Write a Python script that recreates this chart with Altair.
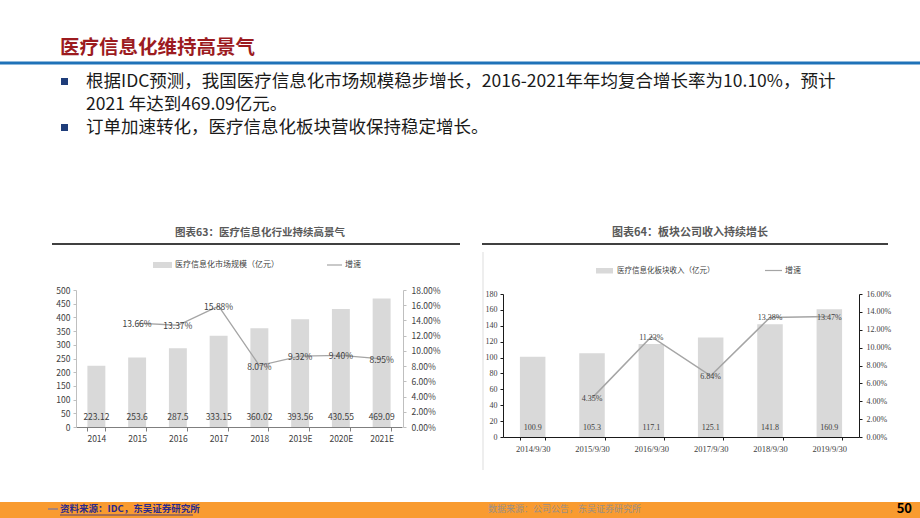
import altair as alt
import pandas as pd

# ---------------- data ----------------
years63 = ["2014", "2015", "2016", "2017", "2018", "2019E", "2020E", "2021E"]
market63 = [223.12, 253.6, 287.5, 333.15, 360.02, 393.56, 430.55, 469.09]
growth_years63 = ["2015", "2016", "2017", "2018", "2019E", "2020E", "2021E"]
growth63 = [13.66, 13.37, 15.88, 8.07, 9.32, 9.40, 8.95]

dates64 = ["2014/9/30", "2015/9/30", "2016/9/30", "2017/9/30", "2018/9/30", "2019/9/30"]
revenue64 = [100.9, 105.3, 117.1, 125.1, 141.8, 160.9]
growth_dates64 = ["2015/9/30", "2016/9/30", "2017/9/30", "2018/9/30", "2019/9/30"]
growth64 = [4.35, 11.23, 6.84, 13.38, 13.47]

left_ticks63 = [0, 50, 100, 150, 200, 250, 300, 350, 400, 450, 500]
right_ticks63 = [0, 2, 4, 6, 8, 10, 12, 14, 16, 18]
left_ticks64 = [0, 20, 40, 60, 80, 100, 120, 140, 160, 180]
right_ticks64 = [0, 2, 4, 6, 8, 10, 12, 14, 16]

slide_title = "医疗信息化维持高景气"
bullet1a = "根据IDC预测，我国医疗信息化市场规模稳步增长，2016-2021年年均复合增长率为10.10%，预计"
bullet1b = "2021 年达到469.09亿元。"
bullet2 = "订单加速转化，医疗信息化板块营收保持稳定增长。"
title63 = "图表63：医疗信息化行业持续高景气"
title64 = "图表64：板块公司收入持续增长"
legend63_bar = "医疗信息化市场规模（亿元）"
legend64_bar = "医疗信息化板块收入（亿元）"
legend_line = "增速"
footer_left = "资料来源：IDC，东吴证券研究所"
footer_mid = "数据来源：公司公告，东吴证券研究所"
page_no = "50"

# ---------------- tables ----------------
df63 = pd.DataFrame({"year": years63, "value": market63,
                     "label": [f"{v:g}" for v in market63]})
dg63 = pd.DataFrame({"year": growth_years63, "growth": growth63,
                     "label": [f"{g:.2f}%" for g in growth63]})
df64 = pd.DataFrame({"date": dates64, "value": revenue64,
                     "label": [f"{v:g}" for v in revenue64]})
dg64 = pd.DataFrame({"date": growth_dates64, "growth": growth64,
                     "label": [f"{g:.2f}%" for g in growth64]})
one = pd.DataFrame({"k": [0]})

# ---------------- style / geometry ----------------
W, H = 920, 518
FONT = "Noto Sans CJK SC"
SERIF = "Liberation Serif, Noto Sans CJK SC"
TXT = "#404040"
BAR = "#D9D9D9"
LINE = "#A5A5A5"

X63 = [76, 402]
Y63 = [427, 290]
X64 = [503, 859]
Y64 = [437, 294]

xb63 = alt.Scale(type="band", domain=years63, range=X63, paddingInner=0.56, paddingOuter=0.28)
xp63 = alt.Scale(type="point", domain=years63, range=X63, padding=0.5)
yl63 = alt.Scale(domain=[0, 500], range=Y63, nice=False)
yr63 = alt.Scale(domain=[0, 18], range=Y63, nice=False)

xb64 = alt.Scale(type="band", domain=dates64, range=X64, paddingInner=0.57, paddingOuter=0.285)
xp64 = alt.Scale(type="point", domain=dates64, range=X64, padding=0.5)
yl64 = alt.Scale(domain=[0, 180], range=Y64, nice=False)
yr64 = alt.Scale(domain=[0, 16], range=Y64, nice=False)

PCT = "format(datum.value, '.2f') + '%'"


def txt(s, x, y, size, color="#000000", weight="normal", font=FONT, align="left"):
    return alt.Chart(one).mark_text(
        text=s, align=align, baseline="middle", fontSize=size, font=font,
        fontWeight=weight, color=color
    ).encode(x=alt.value(x), y=alt.value(y))


def rect(x, x2, y, y2, color):
    return alt.Chart(one).mark_rect(color=color).encode(
        x=alt.value(x), x2=alt.value(x2), y=alt.value(y), y2=alt.value(y2))


def rule(x, x2, y, y2, color, w):
    return alt.Chart(one).mark_rule(color=color, strokeWidth=w).encode(
        x=alt.value(x), x2=alt.value(x2), y=alt.value(y), y2=alt.value(y2))


# ---------------- slide decorations ----------------
deco = [
    txt(slide_title, 60, 48, 19.5, color="#9C1B1F", weight="bold"),
    rule(0, W, 63, 63, "#1F72B8", 3),
    rect(61, 68, 78, 85, "#1F3D7A"),
    txt(bullet1a, 86, 81.5, 17.5, color="#1A1A1A"),
    txt(bullet1b, 86, 105, 17.5, color="#1A1A1A"),
    rect(61, 68, 124, 131, "#1F3D7A"),
    txt(bullet2, 86, 128, 17.5, color="#1A1A1A"),
    # chart 63 header + legend
    txt(title63, 260, 233, 10.5, color="#595959", weight="bold", align="center"),
    rule(52, 460, 244, 244, "#000000", 1.5),
    rect(153, 172, 262, 268, BAR),
    txt(legend63_bar, 175, 265, 8, color=TXT),
    rule(327, 342, 265, 265, LINE, 1.2),
    txt(legend_line, 345, 265, 8, color=TXT),
    # chart 64 header + legend
    txt(title64, 690, 233, 11, color="#595959", weight="bold", align="center"),
    rule(482, 888, 244, 244, "#000000", 1.5),
    rule(483, 483, 252, 470, "#DDDDDD", 1),
    rect(596, 613, 268, 273.5, BAR),
    txt(legend64_bar, 617, 270.5, 7.5, color=TXT, font=SERIF),
    rule(765, 782, 270.5, 270.5, LINE, 1.2),
    txt(legend_line, 785, 270.5, 8, color=TXT, font=SERIF),
    # footer
    rect(0, W, 502, H, "#F99B30"),
    rule(48, 58, 509, 509, "#5B6BB5", 1),
    txt(footer_left, 60, 509, 9.5, color="#2B2A8C", weight="bold"),
    rule(60, 193, 515, 515, "#2B2A8C", 0.8),
    txt(footer_mid, 488, 509, 9, color="#9A8F86"),
    txt(page_no, 912, 509, 13, color="#000000", weight="bold", align="right"),
]

# ---------------- chart 63 ----------------
bars63 = alt.Chart(df63).mark_bar(color=BAR).encode(
    x=alt.X("year:N", scale=xb63, axis=alt.Axis(
        orient="bottom", offset=Y63[0] - H, title=None, labelAngle=0, labelFont=FONT,
        labelFontSize=8.5, labelColor=TXT, domainColor="#7F7F7F", tickColor="#7F7F7F",
        tickSize=4, tickBand="extent", labelPadding=3, grid=False)),
    y=alt.Y("value:Q", scale=yl63, axis=alt.Axis(
        orient="left", offset=-X63[0], values=left_ticks63, title=None, grid=False,
        labelFont=FONT, labelFontSize=8.5, labelColor=TXT, domainColor="#BFBFBF",
        tickColor="#BFBFBF", tickSize=3, labelPadding=3)),
    y2=alt.Y2Datum(0),
)
barlab63 = alt.Chart(df63).mark_text(font=FONT, fontSize=8.5, color=TXT, dy=-10).encode(
    x=alt.X("year:N", scale=xp63, axis=None),
    y=alt.YDatum(0, scale=yl63, axis=None),
    text="label:N",
)
line63 = alt.Chart(dg63).mark_line(color=LINE, strokeWidth=1.3).encode(
    x=alt.X("year:N", scale=xp63, axis=None),
    y=alt.Y("growth:Q", scale=yr63, axis=alt.Axis(
        orient="right", offset=X63[1] + 1 - W, values=right_ticks63, labelExpr=PCT,
        title=None, grid=False, labelFont=FONT, labelFontSize=8.5, labelColor=TXT,
        domainColor="#BFBFBF", tickColor="#BFBFBF", tickSize=3, labelPadding=5)),
)
linelab63 = alt.Chart(dg63).mark_text(font=FONT, fontSize=8.5, color=TXT, dy=1).encode(
    x=alt.X("year:N", scale=xp63, axis=None),
    y=alt.Y("growth:Q", scale=yr63, axis=None),
    text="label:N",
)

# ---------------- chart 64 ----------------
bars64 = alt.Chart(df64).mark_bar(color=BAR).encode(
    x=alt.X("date:N", scale=xb64, axis=alt.Axis(
        orient="bottom", offset=Y64[0] - H, title=None, labelAngle=0, labelFont=SERIF,
        labelFontSize=8.5, labelColor=TXT, domainColor="#1A1A1A", tickColor="#1A1A1A",
        tickSize=3, tickBand="extent", labelPadding=4, grid=False)),
    y=alt.Y("value:Q", scale=yl64, axis=alt.Axis(
        orient="left", offset=-X64[0], values=left_ticks64, title=None, grid=False,
        labelFont=SERIF, labelFontSize=8, labelColor=TXT, domainColor="#1A1A1A",
        tickColor="#1A1A1A", tickSize=3, labelPadding=3)),
    y2=alt.Y2Datum(0),
)
barlab64 = alt.Chart(df64).mark_text(font=SERIF, fontSize=8, color=TXT, dy=-9).encode(
    x=alt.X("date:N", scale=xp64, axis=None),
    y=alt.YDatum(0, scale=yl64, axis=None),
    text="label:N",
)
line64 = alt.Chart(dg64).mark_line(color=LINE, strokeWidth=1.5).encode(
    x=alt.X("date:N", scale=xp64, axis=None),
    y=alt.Y("growth:Q", scale=yr64, axis=alt.Axis(
        orient="right", offset=X64[1] - W, values=right_ticks64, labelExpr=PCT,
        title=None, grid=False, labelFont=SERIF, labelFontSize=8, labelColor=TXT,
        domainColor="#1A1A1A", tickColor="#1A1A1A", tickSize=3, labelPadding=4)),
)
linelab64 = alt.Chart(dg64).mark_text(font=SERIF, fontSize=8, color=TXT, dy=1).encode(
    x=alt.X("date:N", scale=xp64, axis=None),
    y=alt.Y("growth:Q", scale=yr64, axis=None),
    text="label:N",
)

chart = alt.layer(
    *deco, bars63, barlab63, line63, linelab63, bars64, barlab64, line64, linelab64
).resolve_scale(
    x="independent", y="independent"
).properties(
    width=W, height=H, padding=0,
    autosize=alt.AutoSizeParams(type="none"), background="white"
).configure_view(strokeWidth=0)

chart.save("out.html", embed_options={"renderer": "svg", "actions": False})
